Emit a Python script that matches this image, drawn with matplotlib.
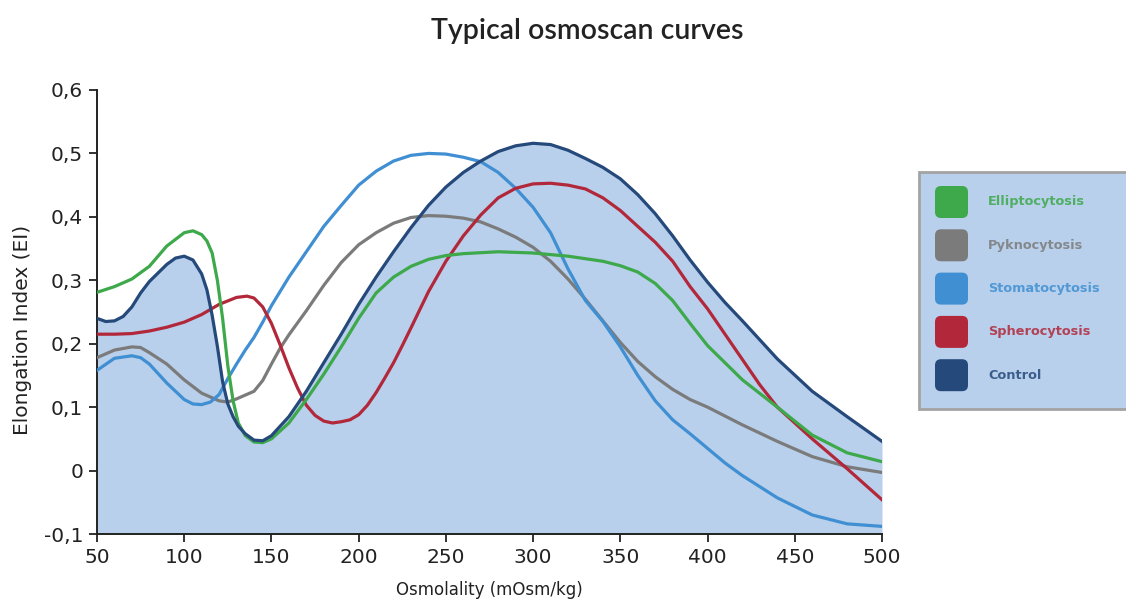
#!/usr/bin/env python3
# -*- coding: utf-8 -*-

import matplotlib
matplotlib.use("Agg")
import matplotlib.pyplot as plt
from matplotlib.patches import FancyBboxPatch
from matplotlib.ticker import FuncFormatter

plt.rcParams["font.family"] = ["DejaVu Sans"]

# ---- data (EI vs osmolality) ----
ellipto_x = [50, 60, 70, 80, 90, 100, 105, 110, 113, 116, 119, 122, 125, 128, 131, 135, 140, 145,
             150, 160, 170, 180, 190, 200, 210, 220, 230, 240, 250, 260, 280, 300, 320, 340, 350,
             360, 370, 380, 390, 400, 420, 440, 460, 480, 500]
ellipto_y = [0.281, 0.290, 0.302, 0.322, 0.354, 0.375, 0.378, 0.372, 0.362, 0.343, 0.300, 0.240,
             0.165, 0.110, 0.075, 0.055, 0.045, 0.044, 0.050, 0.075, 0.112, 0.152, 0.195, 0.240,
             0.280, 0.305, 0.322, 0.333, 0.339, 0.342, 0.345, 0.343, 0.338, 0.330, 0.323, 0.313,
             0.295, 0.268, 0.232, 0.197, 0.143, 0.100, 0.056, 0.028, 0.014]

pykno_x = [50, 60, 70, 75, 80, 90, 100, 110, 120, 125, 130, 140, 145, 150, 155, 160, 170, 180,
           190, 200, 210, 220, 230, 240, 250, 260, 270, 280, 290, 300, 310, 320, 330, 340, 350,
           360, 370, 380, 390, 400, 420, 440, 460, 480, 500]
pykno_y = [0.178, 0.190, 0.195, 0.194, 0.186, 0.168, 0.143, 0.122, 0.110, 0.108, 0.113, 0.125,
           0.142, 0.168, 0.193, 0.214, 0.252, 0.292, 0.328, 0.356, 0.375, 0.390, 0.399, 0.402,
           0.401, 0.398, 0.392, 0.381, 0.368, 0.352, 0.330, 0.302, 0.270, 0.236, 0.202, 0.172,
           0.148, 0.128, 0.112, 0.100, 0.072, 0.046, 0.022, 0.006, -0.003]

stomato_x = [50, 60, 70, 75, 80, 90, 100, 105, 110, 115, 120, 125, 130, 135, 140, 145, 150, 160,
             170, 180, 190, 200, 210, 220, 230, 240, 250, 260, 270, 280, 290, 300, 310, 320, 330,
             340, 350, 360, 370, 380, 390, 400, 410, 420, 440, 460, 480, 500]
stomato_y = [0.158, 0.177, 0.181, 0.178, 0.168, 0.138, 0.112, 0.105, 0.104, 0.108, 0.120, 0.145,
             0.168, 0.190, 0.210, 0.234, 0.260, 0.305, 0.345, 0.385, 0.418, 0.450, 0.472, 0.488,
             0.497, 0.500, 0.499, 0.494, 0.487, 0.470, 0.445, 0.415, 0.375, 0.318, 0.268, 0.235,
             0.195, 0.150, 0.110, 0.080, 0.058, 0.035, 0.012, -0.008, -0.043, -0.070, -0.084,
             -0.088]

sphero_x = [50, 60, 70, 80, 90, 100, 110, 120, 130, 136, 140, 145, 150, 155, 160, 165, 170, 175,
            180, 185, 190, 195, 200, 205, 210, 215, 220, 225, 230, 240, 250, 260, 270, 280, 290,
            300, 310, 320, 330, 340, 350, 360, 370, 380, 390, 400, 410, 420, 430, 440, 460, 480,
            500]
sphero_y = [0.215, 0.215, 0.216, 0.220, 0.226, 0.234, 0.246, 0.262, 0.273, 0.275, 0.272, 0.258,
            0.232, 0.198, 0.162, 0.130, 0.103, 0.087, 0.078, 0.075, 0.077, 0.080, 0.088, 0.103,
            0.123, 0.146, 0.170, 0.197, 0.225, 0.282, 0.330, 0.370, 0.403, 0.430, 0.445, 0.452,
            0.453, 0.450, 0.444, 0.430, 0.410, 0.385, 0.360, 0.330, 0.290, 0.255, 0.215, 0.175,
            0.135, 0.100, 0.050, 0.003, -0.046]

control_x = [50, 55, 60, 65, 70, 75, 80, 90, 95, 100, 105, 110, 113, 116, 119, 122, 125, 128,
             131, 135, 140, 145, 150, 160, 170, 180, 190, 200, 210, 220, 230, 240, 250, 260, 270,
             280, 290, 300, 310, 320, 330, 340, 350, 360, 370, 380, 390, 400, 410, 420, 440, 460,
             480, 500]
control_y = [0.240, 0.235, 0.236, 0.243, 0.258, 0.280, 0.298, 0.325, 0.335, 0.338, 0.332, 0.310,
             0.285, 0.245, 0.196, 0.140, 0.105, 0.085, 0.070, 0.058, 0.048, 0.047, 0.055, 0.085,
             0.125, 0.170, 0.215, 0.262, 0.305, 0.345, 0.383, 0.418, 0.447, 0.470, 0.488, 0.503,
             0.512, 0.516, 0.514, 0.505, 0.492, 0.478, 0.460, 0.435, 0.405, 0.370, 0.332, 0.297,
             0.265, 0.236, 0.176, 0.125, 0.085, 0.046]

legend_labels = ["Elliptocytosis", "Pyknocytosis", "Stomatocytosis", "Spherocytosis", "Control"]
x_ticks = [50, 100, 150, 200, 250, 300, 350, 400, 450, 500]
y_ticks = [-0.1, 0, 0.1, 0.2, 0.3, 0.4, 0.5, 0.6]

GREEN = "#3da94a"
GREY = "#7b7b7b"
LIGHT_BLUE = "#3f8fd2"
RED = "#b2283a"
DARK_BLUE = "#25497a"
FILL = "#b8d0ec"
legend_colors = [GREEN, GREY, LIGHT_BLUE, RED, DARK_BLUE]


def comma_fmt(v, pos):
    if abs(v) < 1e-9:
        return "0"
    return f"{v:.1f}".replace(".", ",")


fig = plt.figure(figsize=(11.26, 6.07), dpi=100)
ax = fig.add_axes([97 / 1126, 1 - 534 / 607, 785 / 1126, 444 / 607])

ax.fill_between(control_x, -0.1, control_y, color=FILL, lw=0, zorder=1)

lw = 2.3
ax.plot(pykno_x, pykno_y, color=GREY, lw=lw, zorder=3)
ax.plot(stomato_x, stomato_y, color=LIGHT_BLUE, lw=lw, zorder=3)
ax.plot(sphero_x, sphero_y, color=RED, lw=lw, zorder=3)
ax.plot(ellipto_x, ellipto_y, color=GREEN, lw=lw, zorder=4)
ax.plot(control_x, control_y, color=DARK_BLUE, lw=lw, zorder=4)

ax.set_xlim(50, 500)
ax.set_ylim(-0.1, 0.6)
ax.set_xticks(x_ticks)
ax.set_yticks(y_ticks)
ax.yaxis.set_major_formatter(FuncFormatter(comma_fmt))
ax.tick_params(axis="both", direction="out", length=6, width=1.3, labelsize=14.5,
               colors="#222222", pad=4)
for side in ["top", "right"]:
    ax.spines[side].set_visible(False)
for side in ["left", "bottom"]:
    ax.spines[side].set_linewidth(1.4)
    ax.spines[side].set_color("#222222")

ax.set_xlabel("Osmolality (mOsm/kg)", fontsize=12, color="#222222", labelpad=10)
ax.set_ylabel("Elongation Index (EI)", fontsize=14.5, color="#222222")
ax.yaxis.set_label_coords(-0.083, 0.46)

fig.text(587 / 1126, 1 - 31 / 607, "Typical osmoscan curves", ha="center", va="center",
         fontsize=20.5, family="Lato", fontweight="semibold", color="#222222")

# legend drawn in pixel coordinates on an overlay axes
lax = fig.add_axes([0, 0, 1, 1])
lax.set_xlim(0, 1126)
lax.set_ylim(607, 0)
lax.axis("off")
lax.add_patch(FancyBboxPatch((919, 172), 230, 237, boxstyle="square,pad=0",
                             facecolor=FILL, edgecolor="#a3a3a3", lw=2))
for i, (lab, col) in enumerate(zip(legend_labels, legend_colors)):
    cy = 202 + i * 43.3
    lax.add_patch(FancyBboxPatch((935, cy - 16), 33, 32,
                                 boxstyle="round,pad=0,rounding_size=6",
                                 facecolor=col, edgecolor="none"))
    lax.text(988, cy, lab, color=col, fontsize=9.3, fontweight="bold",
             va="center", ha="left", alpha=0.85)

fig.savefig("out.png", dpi=100)
